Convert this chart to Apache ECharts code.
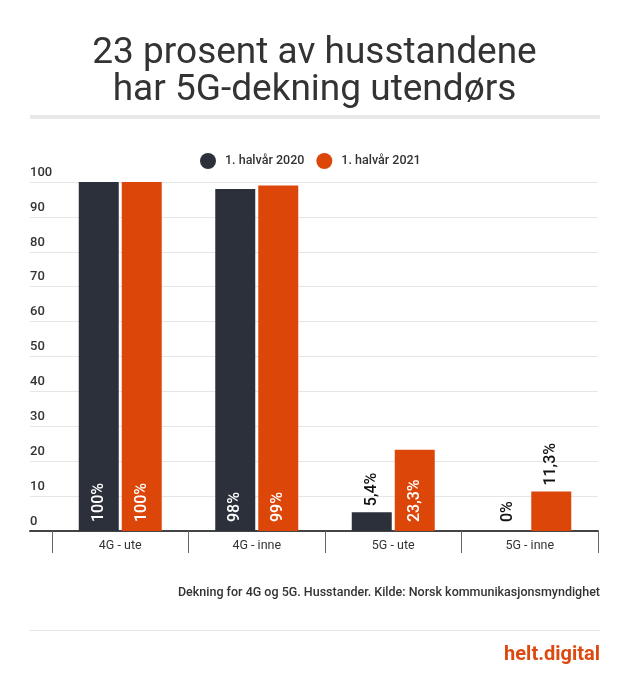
<!DOCTYPE html>
<html>
<head>
<meta charset="utf-8">
<script src="https://cdn.jsdelivr.net/npm/echarts@6/dist/echarts.min.js"></script>
<style>
html,body{margin:0;padding:0;background:#fff;}
#c{width:629px;height:680px;}
</style>
</head>
<body>
<div id="c"></div>
<script>
var categories = ['4G - ute', '4G - inne', '5G - ute', '5G - inne'];
var seriesNames = ['1. halvår 2020', '1. halvår 2021'];
var values2020 = [100, 98, 5.4, 0];
var values2021 = [100, 99, 23.3, 11.3];
var labels2020 = ['100%', '98%', '5,4%', '0%'];
var labels2021 = ['100%', '99%', '23,3%', '11,3%'];
var yTicks = [0, 10, 20, 30, 40, 50, 60, 70, 80, 90, 100];

var FONT = 'Roboto';
var DARK = '#2c303b';
var ORANGE = '#dc4709';

function buildData(vals, labs) {
  return vals.map(function (v, i) {
    var outside = v > 0 && v < 20;
    var zero = v === 0;
    return {
      value: v,
      label: {
        show: true,
        formatter: labs[i],
        position: outside ? 'top' : 'insideBottom',
        rotate: 90,
        align: 'left',
        verticalAlign: 'middle',
        distance: outside ? 6 : 9,
        color: (outside || zero) ? '#111' : '#fff',
        fontFamily: FONT,
        fontWeight: 500,
        fontSize: 16
      }
    };
  });
}

var chart = echarts.init(document.getElementById('c'), null, {renderer: 'canvas'});
chart.setOption({
  backgroundColor: '#fff',
  animation: false,
  title: [{
    text: '23 prosent av husstandene\nhar 5G-dekning utendørs',
    left: 'center',
    top: 30,
    textStyle: {fontFamily: FONT, fontWeight: 400, fontSize: 37, lineHeight: 37, color: '#333'}
  }, {
    text: 'Dekning for 4G og 5G. Husstander. Kilde: Norsk kommunikasjonsmyndighet',
    right: 29,
    top: 586,
    padding: 0,
    textStyle: {fontFamily: FONT, fontWeight: 500, fontSize: 12.5, color: '#333'}
  }, {
    text: 'helt.digital',
    right: 29,
    top: 645,
    padding: 0,
    textStyle: {fontFamily: FONT, fontWeight: 700, fontSize: 20, color: '#dc4a12'}
  }],
  graphic: [{
    type: 'rect', shape: {x: 30, y: 115, width: 570, height: 4},
    style: {fill: '#e8e8e8'}, silent: true
  }, {
    type: 'rect', shape: {x: 30, y: 630, width: 570, height: 1},
    style: {fill: '#e3e3e3'}, silent: true
  }],
  legend: {
    data: seriesNames,
    left: 195,
    top: 148,
    icon: 'circle',
    itemWidth: 16,
    itemHeight: 16,
    itemGap: 12,
    textStyle: {fontFamily: FONT, fontWeight: 500, fontSize: 12.5, color: '#333', padding: [0, 0, 0, 4]}
  },
  grid: [
    {left: 30, right: 31, top: 182, bottom: 149},
    {left: 52, right: 31, top: 182, bottom: 149}
  ],
  xAxis: [{
    gridIndex: 0, type: 'value', min: 0, max: 1,
    axisLine: {show: true, onZero: false, lineStyle: {color: '#444', width: 2}},
    axisTick: {show: false}, axisLabel: {show: false}, splitLine: {show: false}
  }, {
    gridIndex: 1, type: 'category', data: categories,
    axisLine: {show: false},
    axisTick: {show: true, length: 22, lineStyle: {color: '#666', width: 1}},
    axisLabel: {fontFamily: FONT, fontSize: 12.5, color: '#333', margin: 8}
  }],
  yAxis: [{
    gridIndex: 0, type: 'value', min: 0, max: 100, interval: 10,
    axisLine: {show: false}, axisTick: {show: false},
    splitLine: {lineStyle: {color: '#e6e6e6', width: 1}},
    axisLabel: {
      inside: true, margin: 0, align: 'left', verticalAlign: 'bottom',
      padding: [0, 0, 3, 0],
      fontFamily: FONT, fontWeight: 500, fontSize: 13, color: '#333',
      formatter: function (v) { return yTicks.indexOf(v) >= 0 ? String(v) : ''; }
    }
  }, {
    gridIndex: 1, type: 'value', min: 0, max: 100, interval: 10, show: false
  }],
  series: [{
    name: seriesNames[0], type: 'bar', xAxisIndex: 1, yAxisIndex: 1,
    barWidth: 40, barGap: '7.5%',
    itemStyle: {color: DARK},
    data: buildData(values2020, labels2020)
  }, {
    name: seriesNames[1], type: 'bar', xAxisIndex: 1, yAxisIndex: 1,
    barWidth: 40, barGap: '7.5%',
    itemStyle: {color: ORANGE},
    data: buildData(values2021, labels2021)
  }]
});
</script>
</body>
</html>
